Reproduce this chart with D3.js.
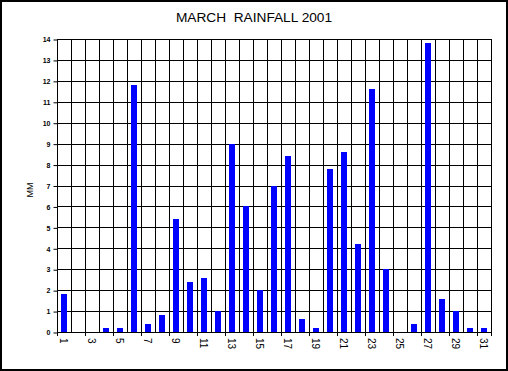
<!DOCTYPE html>
<html>
<head>
<meta charset="utf-8">
<script src="https://cdn.jsdelivr.net/npm/d3@7"></script>
<style>
  body { margin: 0; background: #fff; }
  svg { display: block; font-family: Arial, "Liberation Sans", sans-serif; }
</style>
</head>
<body>
<svg id="chart" width="508" height="371"></svg>
<script>
// March 2001 daily rainfall (mm)
const days = d3.range(1, 32);
const rainfall = [1.8, 0, 0, 0.2, 0.2, 11.8, 0.4, 0.8, 5.4, 2.4, 2.6, 1.0, 9.0, 6.0, 2.0,
                  7.0, 8.4, 0.6, 0.2, 7.8, 8.6, 4.2, 11.6, 3.0, 0, 0.4, 13.8, 1.6, 1.0, 0.2, 0.2];
const yTicks = d3.range(0, 15);
const xLabels = days.filter(d => d % 2 === 1);

const svg = d3.select("#chart");
const width = 508, height = 371;
const margin = { top: 39, right: 17, bottom: 39, left: 57 };
const plotW = width - margin.left - margin.right;
const plotH = height - margin.top - margin.bottom;

// outer frame
svg.append("rect")
    .attr("x", 1).attr("y", 1)
    .attr("width", width - 2).attr("height", height - 2)
    .attr("fill", "none").attr("stroke", "#000").attr("stroke-width", 2);

svg.append("text")
    .attr("x", 254).attr("y", 22)
    .attr("text-anchor", "middle")
    .attr("font-size", 13.7)
    .style("white-space", "pre")
    .text("MARCH  RAINFALL 2001");

const g = svg.append("g").attr("transform", `translate(${margin.left},${margin.top})`);

const x = d3.scaleBand().domain(days).range([0, plotW]).padding(0);
const y = d3.scaleLinear().domain([0, 14]).range([plotH, 0]);
const bw = x.bandwidth();

// horizontal grid
g.append("g").selectAll("line").data(yTicks).join("line")
    .attr("x1", 0).attr("x2", plotW)
    .attr("y1", d => Math.round(y(d)) + 0.5).attr("y2", d => Math.round(y(d)) + 0.5)
    .attr("stroke", "#000").attr("stroke-width", 1);

// vertical grid at category boundaries
const bounds = days.map(d => x(d)).concat([plotW]);
g.append("g").selectAll("line").data(bounds).join("line")
    .attr("x1", d => Math.round(d) + 0.5).attr("x2", d => Math.round(d) + 0.5)
    .attr("y1", 0).attr("y2", plotH)
    .attr("stroke", "#000").attr("stroke-width", 1);

// bars
g.append("g").selectAll("rect").data(days).join("rect")
    .attr("x", d => Math.round(x(d) + bw * 0.29))
    .attr("width", Math.round(bw * 0.43))
    .attr("y", (d, i) => Math.round(y(rainfall[i])))
    .attr("height", (d, i) => Math.round(y(0)) - Math.round(y(rainfall[i])))
    .attr("fill", "#0000ff");

// y axis
const yAxis = g.append("g")
    .attr("transform", "translate(0.5,0.5)")
    .call(d3.axisLeft(y).tickValues(yTicks).tickSize(4).tickPadding(3).tickFormat(d3.format("d")));
yAxis.select(".domain").remove();
yAxis.selectAll("line").attr("stroke", "#000");
yAxis.selectAll("text").attr("font-size", 7).attr("font-weight", "bold")
    .attr("font-family", "Arial, sans-serif").attr("fill", "#000");

// x axis ticks at left edge of odd days
g.append("g").selectAll("line").data(xLabels.map(d => x(d)).concat([plotW])).join("line")
    .attr("x1", d => Math.round(d) + 0.5).attr("x2", d => Math.round(d) + 0.5)
    .attr("y1", plotH).attr("y2", plotH + 4)
    .attr("stroke", "#000");

// x labels, rotated
g.append("g").selectAll("text").data(xLabels).join("text")
    .attr("transform", d => `translate(${x(d) + bw / 2 - 4},${plotH + 6}) rotate(90)`)
    .attr("font-size", 10)
    .attr("text-anchor", "start")
    .text(d => d);

// y axis title
svg.append("text")
    .attr("transform", "translate(33,190) rotate(-90)")
    .attr("text-anchor", "middle")
    .attr("font-size", 9)
    .text("MM");
</script>
</body>
</html>
